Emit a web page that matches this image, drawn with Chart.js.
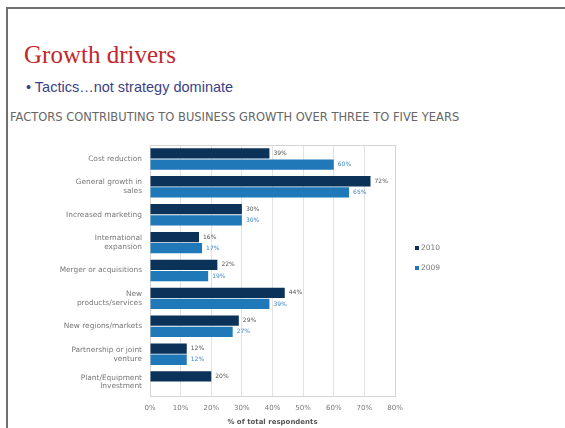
<!DOCTYPE html>
<html>
<head>
<meta charset="utf-8">
<script src="https://cdn.jsdelivr.net/npm/chart.js@4/dist/chart.umd.min.js"></script>
<style>
  body { margin: 0; background: #fff; width: 565px; height: 428px; overflow: hidden; position: relative; }
  .frame { position: absolute; left: 6px; top: 7px; width: 600px; height: 500px; border-left: 2px solid #707070; border-top: 2px solid #707070; }
  h1 { position: absolute; left: 24px; top: 41px; margin: 0; font: 25px "Liberation Serif", serif; color: #c1272d; font-weight: normal; }
  .sub { position: absolute; left: 26px; top: 79px; font: 14.5px "Liberation Sans", Arial, sans-serif; color: #3b3f86; }
  .head { position: absolute; left: 10px; top: 110px; font: 11.5px "DejaVu Sans", sans-serif; color: #666; white-space: nowrap; }
  #wrap { position: absolute; left: 8px; top: 130px; width: 557px; height: 298px; }
</style>
</head>
<body>
<div class="frame"></div>
<h1>Growth drivers</h1>
<div class="sub">• Tactics…not strategy dominate</div>
<div class="head">FACTORS CONTRIBUTING TO BUSINESS GROWTH OVER THREE TO FIVE YEARS</div>
<div id="wrap"><canvas id="grafica"></canvas></div>
<script>
// datos
const categorias = [
  'Cost reduction',
  ['General growth in', 'sales'],
  'Increased marketing',
  ['International', 'expansion'],
  'Merger or acquisitions',
  ['New', 'products/services'],
  'New regions/markets',
  ['Partnership or joint', 'venture'],
  ['Plant/Equipment', 'Investment']
];
const ventas2010 = [39, 72, 30, 16, 22, 44, 29, 12, 20];
const ventas2009 = [60, 65, 30, 17, 19, 39, 27, 12, null];
const marcasX = [0, 10, 20, 30, 40, 50, 60, 70, 80];

const gris = '#777';
const fuente = "'DejaVu Sans', sans-serif";

// etiquetas al final de cada barra
const etiquetas = {
  id: 'etiquetas',
  afterDatasetsDraw(chart) {
    const ctx = chart.ctx;
    ctx.save();
    ctx.font = '6px ' + fuente;
    ctx.textBaseline = 'middle';
    chart.data.datasets.forEach((ds, i) => {
      ctx.fillStyle = i === 0 ? '#555' : '#3f86c4';
      chart.getDatasetMeta(i).data.forEach((bar, j) => {
        if (ds.data[j] == null) return;
        ctx.fillText(ds.data[j] + '%', bar.x + 4, bar.y);
      });
    });
    ctx.restore();
  }
};

// borde del area y leyenda
const marco = {
  id: 'marco',
  beforeDatasetsDraw(chart) {
    const a = chart.chartArea;
    const ctx = chart.ctx;
    ctx.save();
    ctx.strokeStyle = '#d4d4d4';
    ctx.lineWidth = 1;
    ctx.strokeRect(a.left + 0.5, a.top + 0.5, a.width, a.height);
    ctx.restore();
  },
  afterDraw(chart) {
    const a = chart.chartArea;
    const ctx = chart.ctx;
    ctx.save();
    ctx.font = '7.5px ' + fuente;
    ctx.textBaseline = 'middle';
    chart.data.datasets.forEach((ds, i) => {
      const y = 118 + i * 20;
      ctx.fillStyle = ds.backgroundColor;
      ctx.fillRect(a.right + 20, y - 2, 4, 4);
      ctx.fillStyle = gris;
      ctx.fillText(ds.label, a.right + 26, y);
    });
    ctx.restore();
  }
};

new Chart(document.getElementById('grafica'), {
  type: 'bar',
  data: {
    labels: categorias,
    datasets: [
      { label: '2010', data: ventas2010, backgroundColor: '#0b3359', categoryPercentage: 0.8, barPercentage: 0.92 },
      { label: '2009', data: ventas2009, backgroundColor: '#1f79b9', categoryPercentage: 0.8, barPercentage: 0.92 }
    ]
  },
  options: {
    indexAxis: 'y',
    responsive: true,
    maintainAspectRatio: false,
    animation: false,
    layout: { padding: { left: 0, top: 15, right: 170, bottom: 2 } },
    plugins: { legend: { display: false }, tooltip: { enabled: false } },
    scales: {
      x: {
        min: 0, max: 80,
        afterBuildTicks: s => { s.ticks = marcasX.map(v => ({ value: v })); },
        ticks: { color: gris, font: { family: fuente, size: 7 }, padding: 8, callback: v => v + '%' },
        grid: { color: '#e2e2e2', tickLength: 0 },
        border: { color: '#d4d4d4' },
        title: { display: true, text: '% of total respondents', color: '#555', font: { family: fuente, size: 7, weight: 'bold' }, padding: { top: 1, bottom: 0 } },
        afterFit: s => { s.height = 30; }
      },
      y: {
        ticks: { color: gris, font: { family: fuente, size: 7.4 }, padding: 0, autoSkip: false },
        grid: { display: false },
        border: { color: '#d4d4d4' },
        afterFit: s => { s.width = 142; }
      }
    }
  },
  plugins: [etiquetas, marco]
});
</script>
</body>
</html>
